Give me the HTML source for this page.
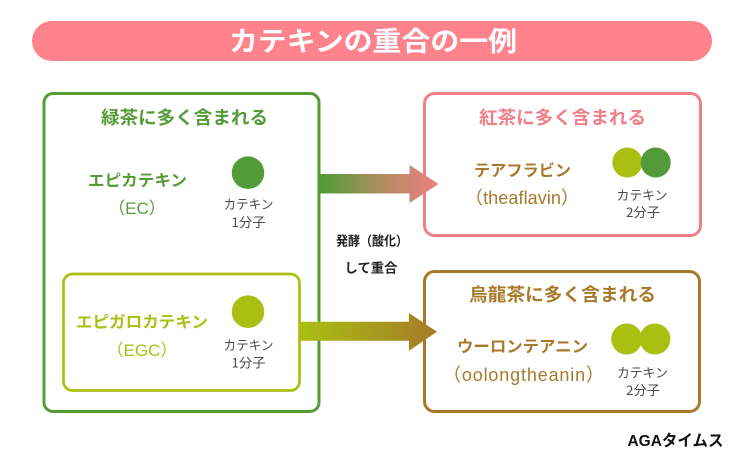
<!DOCTYPE html>
<html><head><meta charset="utf-8">
<style>
html,body{margin:0;padding:0;background:#fff;}
svg{display:block;}
text{font-family:"Liberation Sans","Noto Sans CJK JP",sans-serif;}
.j{font-family:"Noto Sans CJK JP","Liberation Sans",sans-serif;}
</style></head>
<body>
<svg width="744" height="465" viewBox="0 0 744 465" xmlns="http://www.w3.org/2000/svg">
<defs>
<linearGradient id="g1" x1="320" y1="0" x2="438" y2="0" gradientUnits="userSpaceOnUse">
<stop offset="0" stop-color="#4f9c36"/><stop offset="0.5" stop-color="#ad8e5e"/><stop offset="1" stop-color="#ee7f86"/>
</linearGradient>
<linearGradient id="g2" x1="300" y1="0" x2="437" y2="0" gradientUnits="userSpaceOnUse">
<stop offset="0" stop-color="#a9c013"/><stop offset="1" stop-color="#a67a28"/>
</linearGradient>
</defs>

<!-- title bar -->
<rect x="32" y="21" width="680" height="40" rx="20" fill="#ff828c"/>
<text class="j" x="373" y="51" font-size="27" font-weight="700" fill="#fff" text-anchor="middle" textLength="288" lengthAdjust="spacingAndGlyphs">カテキンの重合の一例</text>

<!-- green outer box -->
<rect x="44" y="93.5" width="275" height="318" rx="9" fill="none" stroke="#549c38" stroke-width="3"/>
<!-- inner EGC box -->
<rect x="63.5" y="274" width="236" height="116.5" rx="9" fill="none" stroke="#a9c013" stroke-width="2.7"/>
<!-- pink box -->
<rect x="424.5" y="93.5" width="276" height="142" rx="10" fill="none" stroke="#ef8088" stroke-width="3"/>
<!-- brown box -->
<rect x="424.5" y="271.5" width="275" height="140" rx="10" fill="none" stroke="#a77a2b" stroke-width="3"/>

<!-- arrow 1 -->
<path d="M320 174 H409.5 V165 L438.5 184 L409.5 203 V193.5 H320 Z" fill="url(#g1)"/>
<!-- arrow 2 -->
<path d="M300 321.7 H409 V313 L437 331.7 L409 350.7 V340.7 H300 Z" fill="url(#g2)"/>

<!-- green box texts -->
<text class="j" x="184.5" y="124" font-size="18" font-weight="700" fill="#549c38" text-anchor="middle" textLength="167" lengthAdjust="spacingAndGlyphs">緑茶に多く含まれる</text>
<text class="j" x="137.5" y="186" font-size="16" font-weight="700" fill="#549c38" text-anchor="middle" textLength="99" lengthAdjust="spacingAndGlyphs">エピカテキン</text>
<text x="137" y="214" font-size="17" fill="#549c38" text-anchor="middle">（EC）</text>
<circle cx="248" cy="172.7" r="16.3" fill="#529b38"/>
<text class="j" x="248.5" y="209" font-size="13" fill="#4a4a4a" text-anchor="middle" textLength="50" lengthAdjust="spacingAndGlyphs">カテキン</text>
<text class="j" x="248.5" y="227" font-size="13" fill="#4a4a4a" text-anchor="middle" textLength="34" lengthAdjust="spacingAndGlyphs">1分子</text>

<!-- EGC -->
<text class="j" x="142" y="327.7" font-size="16" font-weight="700" fill="#a9c013" text-anchor="middle" textLength="132" lengthAdjust="spacingAndGlyphs">エピガロカテキン</text>
<text x="142" y="356" font-size="17" fill="#a9c013" text-anchor="middle">（EGC）</text>
<circle cx="248" cy="311.7" r="16.3" fill="#a9c013"/>
<text class="j" x="248.5" y="350" font-size="13" fill="#4a4a4a" text-anchor="middle" textLength="50" lengthAdjust="spacingAndGlyphs">カテキン</text>
<text class="j" x="248.5" y="367.7" font-size="13" fill="#4a4a4a" text-anchor="middle" textLength="34" lengthAdjust="spacingAndGlyphs">1分子</text>

<!-- pink box texts -->
<text class="j" x="562.5" y="124" font-size="18" font-weight="700" fill="#ef7f88" text-anchor="middle" textLength="167" lengthAdjust="spacingAndGlyphs">紅茶に多く含まれる</text>
<text class="j" x="522.5" y="176" font-size="16" font-weight="700" fill="#a77a2b" text-anchor="middle" textLength="97" lengthAdjust="spacingAndGlyphs">テアフラビン</text>
<text x="522" y="204" font-size="18" fill="#a77a2b" text-anchor="middle" textLength="114" lengthAdjust="spacing">（theaflavin）</text>
<circle cx="627.3" cy="162.5" r="15" fill="#a9c013"/>
<circle cx="655.7" cy="162.5" r="15" fill="#529b38"/>
<text class="j" x="642" y="200" font-size="13" fill="#4a4a4a" text-anchor="middle" textLength="51" lengthAdjust="spacingAndGlyphs">カテキン</text>
<text class="j" x="643" y="217" font-size="13" fill="#4a4a4a" text-anchor="middle" textLength="34" lengthAdjust="spacingAndGlyphs">2分子</text>

<!-- middle label -->
<text class="j" x="372" y="245.5" font-size="13" font-weight="700" fill="#222" text-anchor="middle" textLength="72" lengthAdjust="spacingAndGlyphs">発酵（酸化）</text>
<text class="j" x="371" y="272.7" font-size="13" font-weight="700" fill="#222" text-anchor="middle" textLength="53" lengthAdjust="spacingAndGlyphs">して重合</text>

<!-- brown box texts -->
<text class="j" x="562.5" y="301" font-size="18" font-weight="700" fill="#a77a2b" text-anchor="middle" textLength="187" lengthAdjust="spacingAndGlyphs">烏龍茶に多く含まれる</text>
<text class="j" x="522.5" y="352" font-size="16" font-weight="700" fill="#a77a2b" text-anchor="middle" textLength="131" lengthAdjust="spacingAndGlyphs">ウーロンテアニン</text>
<text x="523.5" y="381" font-size="18" fill="#a77a2b" text-anchor="middle" textLength="161" lengthAdjust="spacing">（oolongtheanin）</text>
<circle cx="626.7" cy="339" r="15.5" fill="#a9c013"/>
<circle cx="655" cy="339" r="15.5" fill="#a9c013"/>
<text class="j" x="642.5" y="377.7" font-size="13" fill="#4a4a4a" text-anchor="middle" textLength="51" lengthAdjust="spacingAndGlyphs">カテキン</text>
<text class="j" x="643" y="395" font-size="13" fill="#4a4a4a" text-anchor="middle" textLength="34" lengthAdjust="spacingAndGlyphs">2分子</text>

<!-- logo -->
<text x="675.5" y="446" font-size="16" fill="#111" text-anchor="middle" textLength="96" lengthAdjust="spacingAndGlyphs" style="font-family:'Liberation Sans','Noto Sans CJK JP',sans-serif;font-weight:bold;">AGAタイムス</text>
</svg>
</body></html>
